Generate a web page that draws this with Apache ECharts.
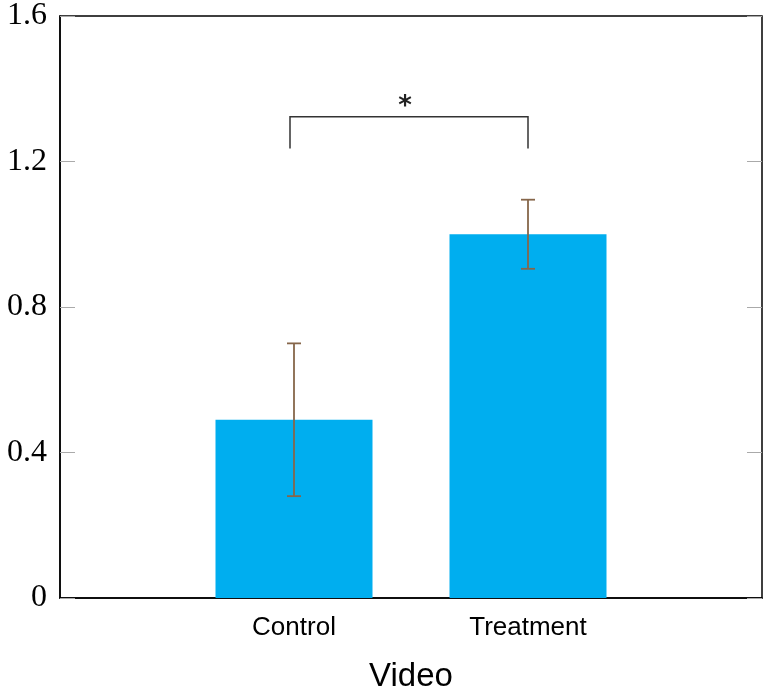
<!DOCTYPE html>
<html>
<head>
<meta charset="utf-8">
<script src="https://cdn.jsdelivr.net/npm/echarts@6/dist/echarts.min.js"></script>
<style>
  html, body { margin: 0; padding: 0; background: #fff; }
  #chart { width: 766px; height: 695px; }
</style>
</head>
<body>
<div id="chart"></div>
<script>
// padded with empty slots so the two bars sit at 1/3 and 2/3 of the width
const categories = ['', 'Control', 'Treatment', ''];
const means = ['-', 0.49, 1.0, '-'];
const errLow = [null, 0.28, 0.905, null];
const errHigh = [null, 0.70, 1.095, null];
const yTicks = { min: 0, max: 1.6, interval: 0.4 };
// significance bracket: [fromIndex, toIndex, top, legBottom, label]
const brackets = [[1, 2, 1.323, 1.236, '*']];

const errData = [];
categories.forEach((c, i) => {
    if (errLow[i] != null) errData.push([i, errLow[i], errHigh[i]]);
});

const chart = echarts.init(document.getElementById('chart'));
const option = {
    animation: false,
    grid: {
        left: 60, right: 4, top: 16, bottom: 97,
        outerBoundsMode: 'none',
        containLabel: false,
        show: true, borderColor: '#000', borderWidth: 1.5
    },
    xAxis: {
        type: 'category',
        data: categories,
        boundaryGap: false,
        name: 'Video',
        nameLocation: 'middle',
        nameGap: 62,
        nameTextStyle: { fontFamily: 'Liberation Sans', fontSize: 33, color: '#000' },
        axisLine: { show: true, lineStyle: { color: '#000', width: 1.5 } },
        axisTick: { show: false },
        axisLabel: {
            interval: 0, margin: 17,
            fontFamily: 'Liberation Sans', fontSize: 26, color: '#000'
        },
        splitLine: { show: false }
    },
    yAxis: [{
        type: 'value',
        min: yTicks.min, max: yTicks.max, interval: yTicks.interval,
        axisLine: { show: true, lineStyle: { color: '#000', width: 1.5 } },
        axisTick: { show: true, inside: true, length: 15, lineStyle: { color: '#aaa', width: 1 } },
        axisLabel: {
            margin: 13,
            padding: [4, 0, 0, 0],
            fontFamily: 'Liberation Serif', fontSize: 32, color: '#000',
            formatter: v => String(Math.round(v * 10) / 10)
        },
        splitLine: { show: false }
    }, {
        type: 'value',
        position: 'right',
        min: yTicks.min, max: yTicks.max, interval: yTicks.interval,
        axisLine: { show: false },
        axisTick: { show: true, inside: true, length: 15, lineStyle: { color: '#aaa', width: 1 } },
        axisLabel: { show: false },
        splitLine: { show: false }
    }],
    series: [{
        type: 'bar',
        data: means,
        barWidth: 157,
        itemStyle: { color: '#00aeef' },
        z: 1
    }, {
        type: 'custom',
        data: errData,
        z: 3,
        renderItem(params, api) {
            const lo = api.coord([api.value(0), api.value(1)]);
            const hi = api.coord([api.value(0), api.value(2)]);
            const cap = 7;
            const style = { stroke: '#86664a', lineWidth: 1.8 };
            return {
                type: 'group',
                children: [
                    { type: 'line', shape: { x1: lo[0], y1: lo[1], x2: hi[0], y2: hi[1] }, style },
                    { type: 'line', shape: { x1: hi[0] - cap, y1: hi[1], x2: hi[0] + cap, y2: hi[1] }, style },
                    { type: 'line', shape: { x1: lo[0] - cap, y1: lo[1], x2: lo[0] + cap, y2: lo[1] }, style }
                ]
            };
        }
    }, {
        type: 'custom',
        data: brackets,
        z: 3,
        renderItem(params, api) {
            const b = brackets[params.dataIndex];
            const a1 = api.coord([b[0], b[3]]);
            const a2 = api.coord([b[0], b[2]]);
            const b2 = api.coord([b[1], b[2]]);
            const b1 = api.coord([b[1], b[3]]);
            const style = { stroke: '#333', lineWidth: 1.5, fill: null };
            return {
                type: 'group',
                children: [
                    { type: 'polyline', shape: { points: [[a1[0] - 4, a1[1]], [a2[0] - 4, a2[1]], b2, b1] }, style },
                    {
                        type: 'text',
                        style: {
                            text: b[4], x: (a2[0] + b2[0]) / 2 - 6, y: a2[1] - 10,
                            textAlign: 'center', textVerticalAlign: 'middle',
                            fontFamily: 'DejaVu Sans', fontSize: 26, fontWeight: 'bold', fill: '#222'
                        }
                    }
                ]
            };
        }
    }]
};
chart.setOption(option);
</script>
</body>
</html>
